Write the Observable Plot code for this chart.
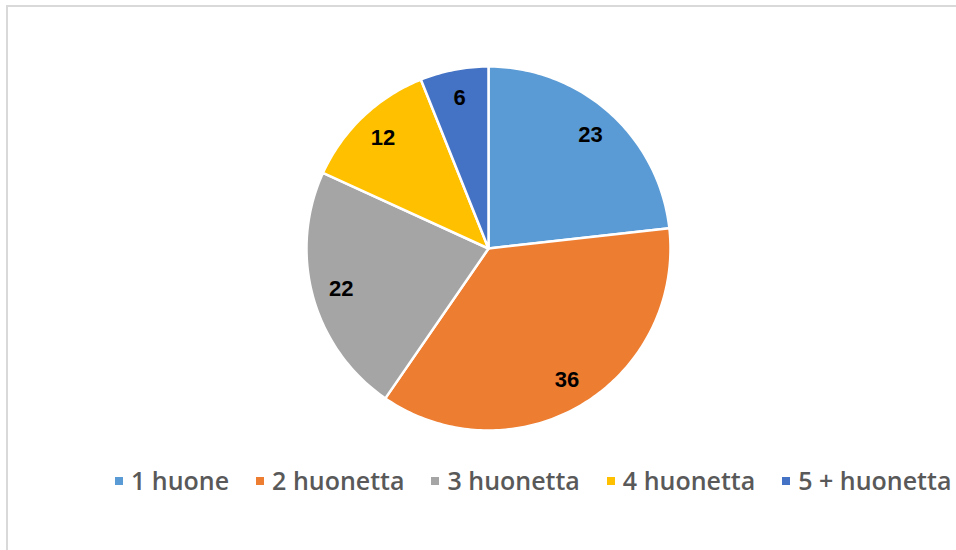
<!DOCTYPE html>
<html><head><meta charset="utf-8">
<script src="https://cdn.jsdelivr.net/npm/d3@7"></script>
<script src="https://cdn.jsdelivr.net/npm/@observablehq/plot@0.6"></script>
<style>
html,body{margin:0;padding:0;background:#fff;overflow:hidden;width:956px;height:550px;position:relative}
#frame{position:absolute;left:6px;top:5px;width:1100px;height:700px;border-left:2px solid #d9d9d9;border-top:2px solid #d9d9d9;box-sizing:border-box}
#chart{position:absolute;left:0;top:0}
#legend{position:absolute;left:115px;top:468px;display:flex;align-items:center;font-family:"Open Sans",sans-serif;font-weight:600;font-size:25px;line-height:25px;color:#595959;white-space:nowrap}
.item{display:flex;align-items:center;margin-right:27px}
.sw{width:8px;height:8px;margin-right:8px;flex:none}
</style>
</head><body>
<div id="frame"></div>
<div id="chart"></div>
<div id="legend"></div>
<script>
const categories = ["1 huone", "2 huonetta", "3 huonetta", "4 huonetta", "5 + huonetta"];
const values = [23, 36, 22, 12, 6];
const colors = ["#5B9BD5", "#ED7D31", "#A5A5A5", "#FFC000", "#4472C4"];

const cx = 488, cy = 248, R = 182;

const arcs = d3.pie().sort(null).value(d => d.value)(categories.map((c, i) => ({cat: c, value: values[i]})));

// slice outlines in unit-circle coordinates (angle 0 at 12 o'clock, clockwise)
const outline = [];
const labels = [];
for (const a of arcs) {
  const cat = a.data.cat;
  outline.push({cat, x: 0, y: 0});
  const n = Math.max(2, Math.ceil((a.endAngle - a.startAngle) / (Math.PI / 180)));
  for (let k = 0; k <= n; k++) {
    const t = a.startAngle + (a.endAngle - a.startAngle) * k / n;
    outline.push({cat, x: Math.sin(t), y: Math.cos(t)});
  }
  const m = (a.startAngle + a.endAngle) / 2;
  labels.push({cat, value: a.data.value, x: 0.84 * Math.sin(m), y: 0.84 * Math.cos(m)});
}

const chart = Plot.plot({
  width: 956,
  height: 460,
  margin: 0,
  x: {domain: [-1, 1], range: [cx - R, cx + R], axis: null},
  y: {domain: [-1, 1], range: [cy + R, cy - R], axis: null},
  color: {domain: categories, range: colors},
  marks: [
    Plot.line(outline, {x: "x", y: "y", z: "cat", fill: "cat", stroke: "white", strokeWidth: 2.5, curve: "linear-closed", strokeLinejoin: "round"}),
    Plot.text(labels, {x: "x", y: "y", text: "value", fill: "black", fontSize: 22, fontWeight: "bold", fontFamily: "Liberation Sans, Arial, sans-serif"})
  ]
});
chart.style.background = "transparent";
document.getElementById("chart").appendChild(chart);

const legend = document.getElementById("legend");
categories.forEach((c, i) => {
  const it = document.createElement("div");
  it.className = "item";
  const sw = document.createElement("span");
  sw.className = "sw";
  sw.style.background = colors[i];
  const tx = document.createElement("span");
  tx.textContent = c;
  it.appendChild(sw);
  it.appendChild(tx);
  legend.appendChild(it);
});
</script>
</body></html>
